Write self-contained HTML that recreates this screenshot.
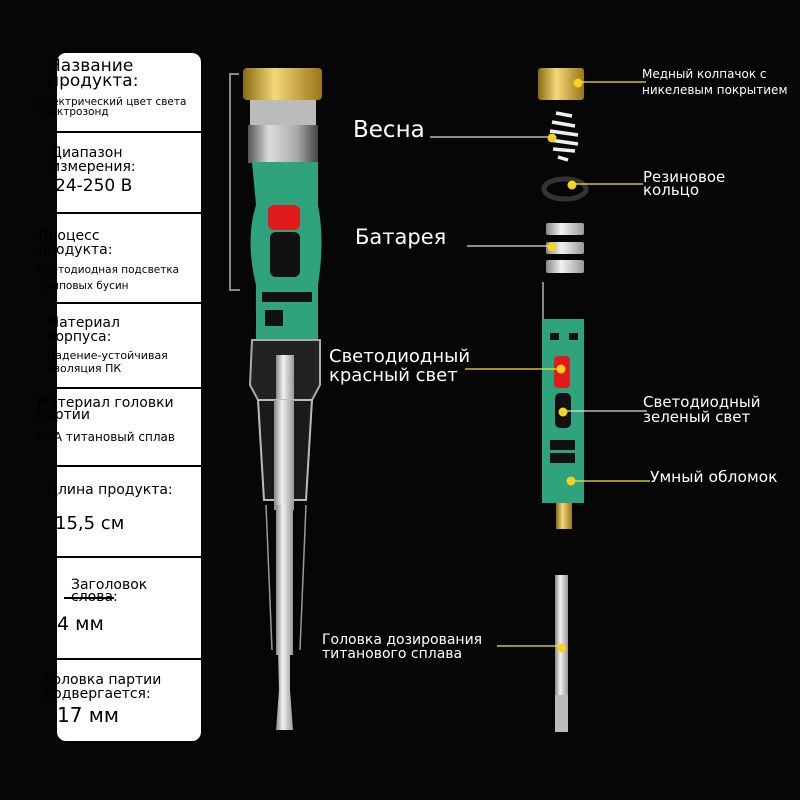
<!DOCTYPE html>
<html><head><meta charset="utf-8"><style>
html,body{margin:0;padding:0;background:#000;}
body{width:800px;height:800px;position:relative;overflow:hidden;font-family:"Liberation Sans","DejaVu Sans",sans-serif;}
svg{position:absolute;left:0;top:0;}
.t{position:absolute;color:#000;line-height:1;white-space:nowrap;font-family:"DejaVu Sans","Liberation Sans",sans-serif;}
.w{position:absolute;color:#fff;line-height:1;white-space:nowrap;font-family:"DejaVu Sans","Liberation Sans",sans-serif;}
</style></head><body>
<svg width="800" height="800" viewBox="0 0 800 800">
<defs>
<linearGradient id="gold" x1="0" x2="1"><stop offset="0" stop-color="#8a6a10"/><stop offset=".4" stop-color="#f3d77a"/><stop offset="1" stop-color="#9a7515"/></linearGradient>
<linearGradient id="glass" x1="0" x2="1"><stop offset="0" stop-color="#555"/><stop offset=".3" stop-color="#ddd"/><stop offset=".7" stop-color="#aaa"/><stop offset="1" stop-color="#444"/></linearGradient>
<linearGradient id="steel" x1="0" x2="1"><stop offset="0" stop-color="#888"/><stop offset=".4" stop-color="#f2f2f2"/><stop offset="1" stop-color="#999"/></linearGradient>
</defs>
<rect width="800" height="800" fill="#060606"/>
<rect x="57" y="53" width="144" height="688" rx="9" fill="#fff"/>
<g fill="#000">
<rect x="57" y="131" width="144" height="2"/><rect x="57" y="212" width="144" height="2"/>
<rect x="57" y="302" width="144" height="2"/><rect x="57" y="387" width="144" height="2"/>
<rect x="57" y="465" width="144" height="2"/><rect x="57" y="556" width="144" height="2"/>
<rect x="57" y="658" width="144" height="2"/>
</g>
<path d="M239 74 H230 V290 H240" stroke="#888" stroke-width="2" fill="none"/>
<rect x="243" y="68" width="79" height="32" rx="4" fill="url(#gold)"/>
<rect x="250" y="100" width="66" height="25" fill="#bbb"/>
<rect x="248" y="125" width="70" height="38" fill="url(#glass)"/>
<path d="M252 162 H318 V205 Q325 240 318 285 V340 H256 V285 Q245 240 256 205 Z" fill="#2ea37c"/>
<rect x="268" y="205" width="32" height="25" rx="6" fill="#e01b1b"/>
<rect x="270" y="232" width="30" height="45" rx="6" fill="#111"/>
<rect x="262" y="292" width="50" height="10" fill="#111"/>
<rect x="265" y="310" width="18" height="16" fill="#111"/>
<rect x="270" y="342" width="30" height="25" fill="#c8a23a"/>
<path d="M252 340 H320 V385 L312 400 H258 L250 385 Z" fill="#222" stroke="#aaa" stroke-width="2"/>
<rect x="276" y="355" width="18" height="150" fill="url(#steel)"/>
<path d="M258 400 H312 L306 500 H264 Z" fill="#1a1a1a" stroke="#bbb" stroke-width="2"/>
<rect x="274" y="400" width="20" height="110" fill="url(#steel)"/>
<path d="M266 505 L272 650 M306 505 L300 650" stroke="#999" stroke-width="1.5"/>
<rect x="276" y="505" width="17" height="150" fill="url(#steel)"/>
<path d="M278 650 H290 V690 L293 730 H276 L279 690 Z" fill="url(#steel)"/>
<rect x="538" y="68" width="46" height="32" rx="3" fill="url(#gold)"/>
<g stroke="#eee" stroke-width="3.5" fill="none">
<path d="M556 113 L572 116 M552 122 L575 126 M550 131 L578 135 M550 140 L578 144 M553 149 L575 151 M558 157 L568 160"/>
</g>
<ellipse cx="565" cy="189" rx="21" ry="10" fill="none" stroke="#333" stroke-width="5"/>
<rect x="546" y="223" width="38" height="12" rx="2" fill="url(#steel)"/>
<rect x="546" y="242" width="38" height="12" rx="2" fill="url(#steel)"/>
<rect x="546" y="260" width="38" height="13" rx="2" fill="url(#steel)"/>
<rect x="542" y="282" width="2" height="38" fill="#888"/>
<rect x="542" y="319" width="42" height="184" fill="#2ea37c"/>
<rect x="554" y="356" width="16" height="32" rx="4" fill="#e01b1b"/>
<rect x="555" y="393" width="16" height="35" rx="5" fill="#111"/>
<rect x="550" y="440" width="25" height="10" fill="#111"/>
<rect x="550" y="453" width="25" height="10" fill="#111"/>
<rect x="550" y="333" width="9" height="7" fill="#111"/><rect x="569" y="333" width="9" height="7" fill="#111"/>
<rect x="556" y="503" width="16" height="26" fill="url(#gold)"/>
<rect x="555" y="575" width="13" height="120" fill="url(#steel)"/>
<path d="M555 695 H568 V732 H555 Z" fill="#bbb"/>
<g stroke-width="1.3">
<line x1="578" y1="82" x2="646" y2="82" stroke="#f5e23a"/>
<line x1="430" y1="137" x2="552" y2="137" stroke="#ddd"/>
<line x1="573" y1="184" x2="643" y2="184" stroke="#f5e23a"/>
<line x1="467" y1="246" x2="552" y2="246" stroke="#ddd"/>
<line x1="465" y1="369" x2="560" y2="369" stroke="#f5e23a"/>
<line x1="565" y1="411" x2="647" y2="411" stroke="#ddd"/>
<line x1="571" y1="481" x2="650" y2="481" stroke="#f5e23a"/>
<line x1="497" y1="646" x2="560" y2="646" stroke="#f5e23a"/>
</g>
<g fill="#f7d21e">
<circle cx="578" cy="83" r="4.5"/><circle cx="552" cy="138" r="4.5"/><circle cx="572" cy="185" r="4.5"/>
<circle cx="552" cy="247" r="4.5"/><circle cx="561" cy="369" r="4.5"/><circle cx="563" cy="412" r="4.5"/>
<circle cx="571" cy="481" r="4.5"/><circle cx="562" cy="648" r="4.5"/>
</g>
</svg>
<div class="t" style="left:48px;top:59px;font-size:17px;line-height:15px">Название<br>продукта:</div>
<div class="t" style="left:38px;top:97px;font-size:10.5px;line-height:10px">Электрический цвет света<br>электрозонд</div>
<div class="t" style="left:51px;top:146px;font-size:14px;line-height:14px">Диапазон<br>измерения:</div>
<div class="t" style="left:55px;top:178px;font-size:17px">24-250 В</div>
<div class="t" style="left:38px;top:229px;font-size:14px;line-height:14px">Процесс<br>продукта:</div>
<div class="t" style="left:38px;top:262px;font-size:10.5px;line-height:16px">Светодиодная подсветка<br>ламповых бусин</div>
<div class="t" style="left:47px;top:316px;font-size:14px;line-height:14px">Материал<br>корпуса:</div>
<div class="t" style="left:47px;top:349px;font-size:11px;line-height:13px">Падение-устойчивая<br>изоляция ПК</div>
<div class="t" style="left:37px;top:397px;font-size:14px;line-height:12px">Материал головки<br>партии</div>
<div class="t" style="left:37px;top:431px;font-size:12px">HRA титановый сплав</div>
<div class="t" style="left:47px;top:483px;font-size:14px">Длина продукта:</div>
<div class="t" style="left:55px;top:515px;font-size:18px">15,5 см</div>
<div class="t" style="left:71px;top:579px;font-size:14px;line-height:12px">Заголовок<br>слова:</div>
<div style="position:absolute;left:64px;top:597px;width:50px;height:2px;background:#000"></div>
<div class="t" style="left:57px;top:615px;font-size:19px">4 мм</div>
<div class="t" style="left:44px;top:673px;font-size:14px;line-height:14px">Головка партии<br>подвергается:</div>
<div class="t" style="left:57px;top:705px;font-size:20px">17 мм</div>
<div class="w" style="left:642px;top:66px;font-size:12px;line-height:16px">Медный колпачок с<br>никелевым покрытием</div>
<div class="w" style="left:353px;top:119px;font-size:23px">Весна</div>
<div class="w" style="left:643px;top:171px;font-size:15px;line-height:13px">Резиновое<br>кольцо</div>
<div class="w" style="left:355px;top:227px;font-size:21px">Батарея</div>
<div class="w" style="left:329px;top:347px;font-size:18px;line-height:19px">Светодиодный<br>красный свет</div>
<div class="w" style="left:643px;top:395px;font-size:15px;line-height:15px">Светодиодный<br>зеленый свет</div>
<div class="w" style="left:650px;top:470px;font-size:15.5px">Умный обломок</div>
<div class="w" style="left:322px;top:633px;font-size:14px;line-height:14px">Головка дозирования<br>титанового сплава</div>
</body></html>
